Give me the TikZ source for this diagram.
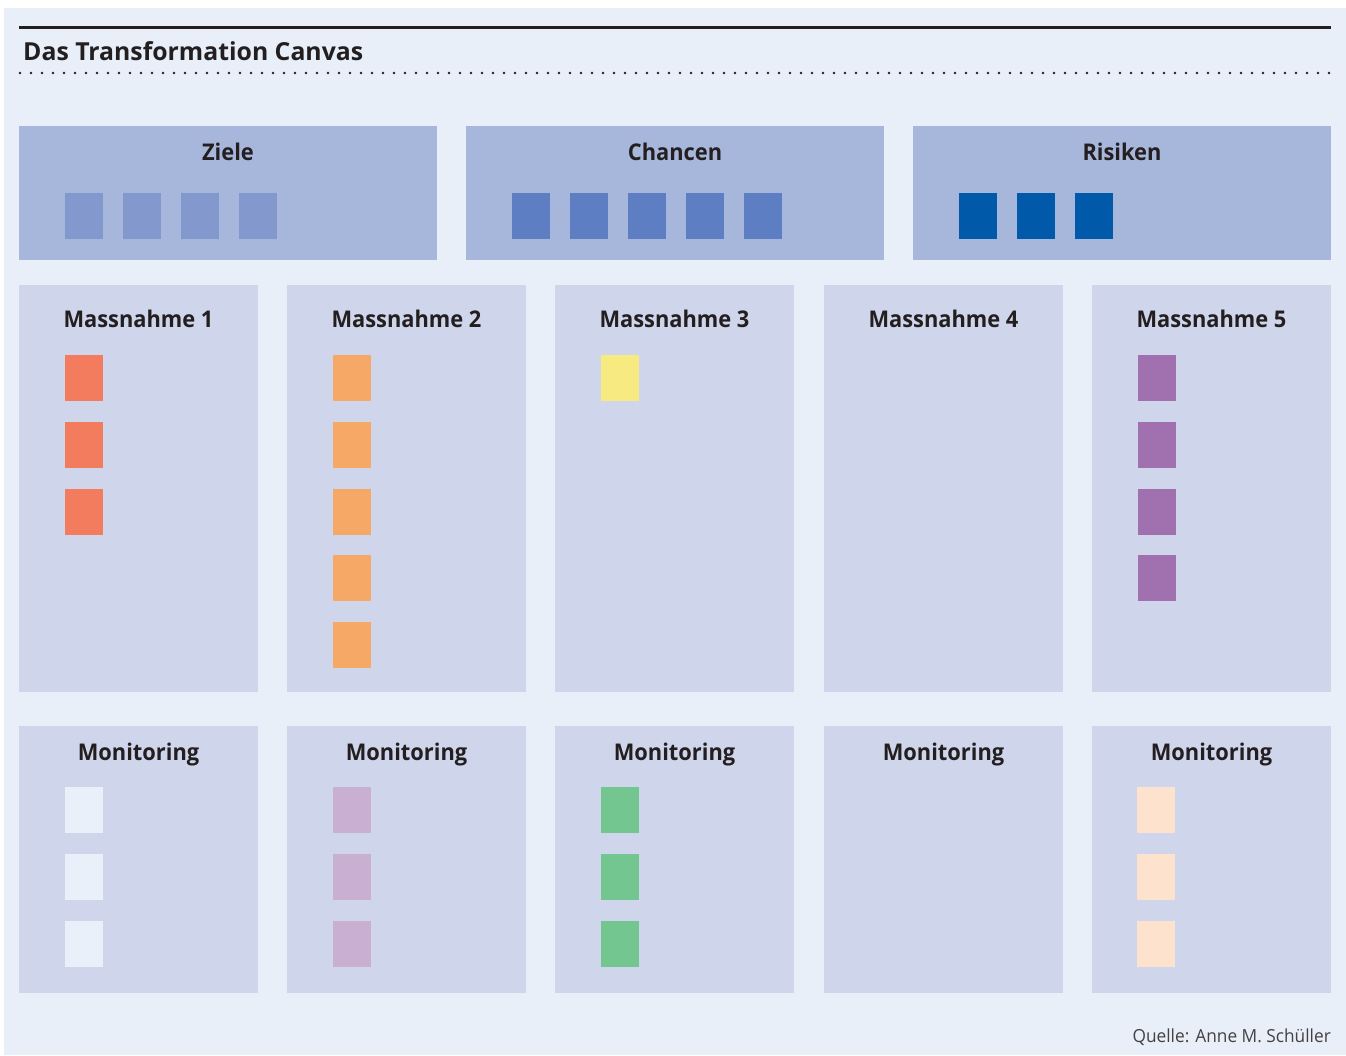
\documentclass[tikz,border=0pt]{standalone}
\usepackage{fontspec}
\setmainfont{Open Sans}
\newfontfamily\labelfont[FakeStretch=0.95]{Open Sans}
\newfontfamily\sourcefont[FakeStretch=0.96]{Open Sans}
\usetikzlibrary{calc}
\definecolor{canvasbg}{HTML}{E8EFF9}
\definecolor{topfill}{HTML}{A7B6DB}
\definecolor{colfill}{HTML}{CFD5EB}
\definecolor{inkdark}{HTML}{231F20}
\definecolor{sqziele}{HTML}{8399CE}
\definecolor{sqchancen}{HTML}{5D7EC2}
\definecolor{sqrisiken}{HTML}{005AA9}
\definecolor{sqmA}{HTML}{F47C5E}
\definecolor{sqmB}{HTML}{F6A967}
\definecolor{sqmC}{HTML}{F6EA80}
\definecolor{sqmE}{HTML}{A070AF}
\definecolor{sqoA}{HTML}{EAF0F9}
\definecolor{sqoB}{HTML}{C9AFD2}
\definecolor{sqoC}{HTML}{73C68F}
\definecolor{sqoE}{HTML}{FDE3CE}
\tikzset{
  panel/.style={rectangle, anchor=north west, inner sep=0pt, outer sep=0pt, draw=none},
  topbox/.style={panel, fill=topfill, minimum width=418pt, minimum height=134pt},
  colbox/.style={panel, fill=colfill, minimum width=239pt, minimum height=407pt},
  monbox/.style={panel, fill=colfill, minimum width=239pt, minimum height=267pt},
  card/.style={panel, fill=#1, minimum width=38pt, minimum height=46pt},
  heading/.style={anchor=base, inner sep=0pt, text=inkdark, font=\labelfont\fontsize{23}{27}\selectfont\bfseries},
}
\begin{document}
\begin{tikzpicture}[x=1pt, y=-1pt]
  \useasboundingbox (0,0) rectangle (1346,1055);
  \fill[white] (0,0) rectangle (1346,1055);
  \fill[canvasbg] (4,8) rectangle (1346,1055);

  % title with rules
  \coordinate (ruleL) at (19,27);
  \coordinate (ruleR) at (1331,27);
  \draw[inkdark, line width=3pt] (ruleL) -- (ruleR);
  \node[anchor=base west, inner sep=0pt, text=inkdark, font=\fontsize{24.8}{29}\selectfont\bfseries] (title) at (23,60) {Das Transformation Canvas};
  \coordinate (dotL) at (20,73);
  \coordinate (dotR) at (1331,73);
  \draw[inkdark, line width=2.8pt, line cap=round, dash pattern=on 0pt off 11pt] (dotL) -- (dotR);

  % top row
  \node[topbox] (ziele) at (19,126) {};
  \node[topbox] (chancen) at (466,126) {};
  \node[topbox] (risiken) at (913,126) {};
  \node[heading] at ($(ziele.north)+(0,34)$) {Ziele};
  \node[heading] at ($(chancen.north)+(0,34)$) {Chancen};
  \node[heading] at ($(risiken.north)+(0,34)$) {Risiken};
  \foreach \i in {0,...,3} \node[card=sqziele] (z\i) at ($(65,193)+(58*\i,0)$) {};
  \foreach \i in {0,...,4} \node[card=sqchancen] (c\i) at ($(512,193)+(58*\i,0)$) {};
  \foreach \i in {0,...,2} \node[card=sqrisiken] (r\i) at ($(959,193)+(58*\i,0)$) {};

  % measures and monitoring columns
  \foreach \k/\x in {1/19, 2/287, 3/555, 4/824, 5/1092} {
    \node[colbox] (m\k) at (\x,285) {};
    \node[heading] (mt\k) at ($(m\k.north)+(0,42)$) {Massnahme \k};
    \node[monbox] (o\k) at (\x,726) {};
    \node[heading] (ot\k) at ($(o\k.north)+(0,34)$) {Monitoring};
  }
  \foreach \i in {0,...,2} \node[card=sqmA] (ma\i) at ($(65,355)+(0,66.8*\i)$) {};
  \foreach \i in {0,...,4} \node[card=sqmB] (mb\i) at ($(333,355)+(0,66.8*\i)$) {};
  \node[card=sqmC] (mc0) at (601,355) {};
  \foreach \i in {0,...,3} \node[card=sqmE] (me\i) at ($(1138,355)+(0,66.8*\i)$) {};
  \foreach \i in {0,...,2} {
    \node[card=sqoA] (oa\i) at ($(65,787)+(0,67*\i)$) {};
    \node[card=sqoB] (ob\i) at ($(333,787)+(0,67*\i)$) {};
    \node[card=sqoC] (oc\i) at ($(601,787)+(0,67*\i)$) {};
    \node[card=sqoE] (oe\i) at ($(1137,787)+(0,67*\i)$) {};
  }

  % source line
  \node[anchor=base east, inner sep=0pt, text=inkdark!85, font=\sourcefont\fontsize{18}{22}\selectfont] (quelle) at (1331,1042) {Quelle: Anne M. Schüller};
\end{tikzpicture}
\end{document}
